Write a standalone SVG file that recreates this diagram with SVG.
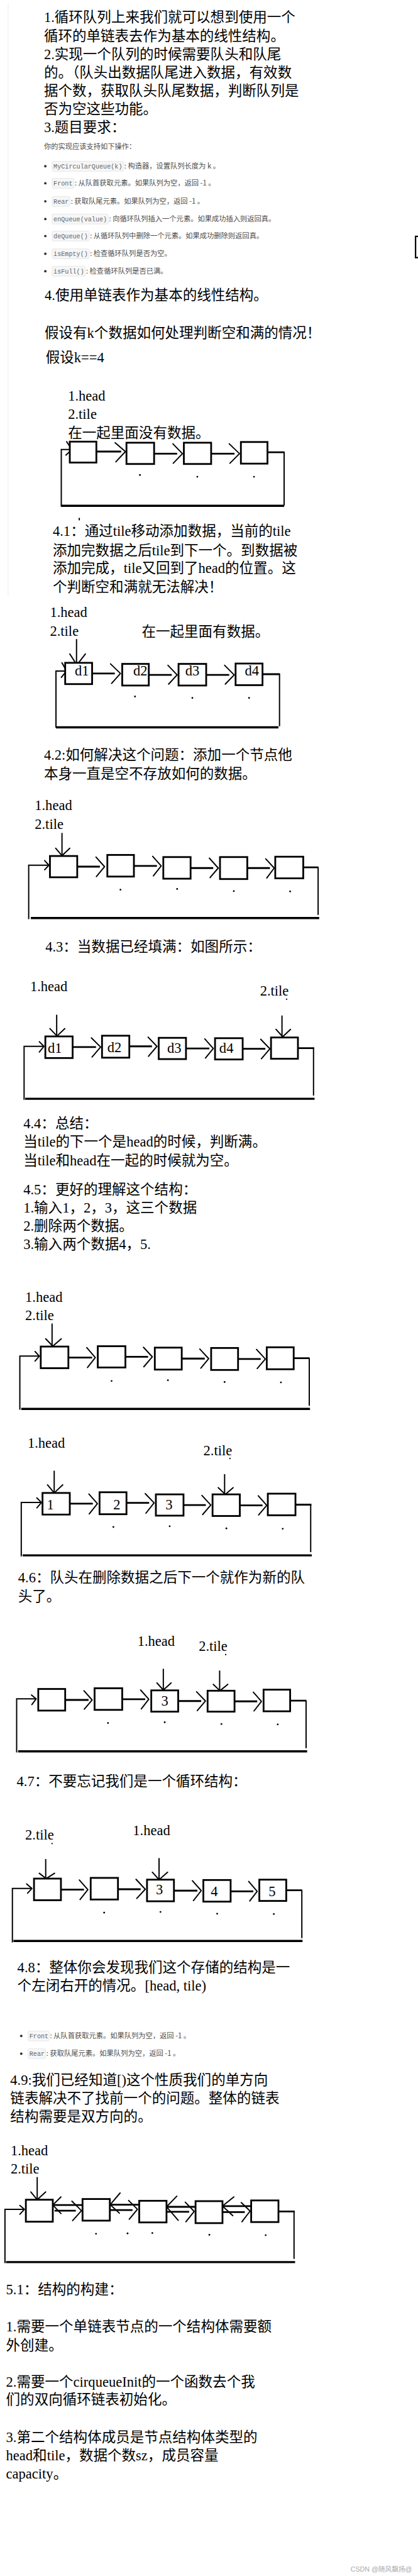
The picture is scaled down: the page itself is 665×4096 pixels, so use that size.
<svg xmlns="http://www.w3.org/2000/svg" width="665" height="4096" viewBox="0 0 665 4096">
<style>
.t{font-family:"Liberation Serif","Noto Sans CJK SC",serif;font-size:40px;fill:#000}
.n{font-family:"Liberation Serif","Noto Sans CJK SC",serif;font-size:40px;fill:#000}
.s{font-family:"Noto Sans CJK SC",sans-serif;font-size:20px;fill:#4d4d4d}
.c{font-family:"Liberation Mono",monospace;font-size:18px;fill:#666}
.cb{fill:#f6f6f6;stroke:#e4e4e4;stroke-width:1.5}
.box{fill:#fff;stroke:#000;stroke-width:5}
.ln{stroke:#000;stroke-width:5;fill:none}
.lp{stroke:#000;stroke-width:3.5;fill:none}
.bt{stroke:#000;stroke-width:6;fill:none}
.ch{stroke:#000;stroke-width:3.5;fill:none;stroke-linecap:round;stroke-linejoin:round}
.dt{fill:#000}
.wm{font-family:"Liberation Sans","Noto Sans CJK SC",sans-serif;font-size:19px;fill:#aaa}
</style>
<rect width="665" height="4096" fill="#fff"/>
<g transform="scale(0.5636)">
<line x1="23" y1="8" x2="23" y2="1682" stroke="#efefef" stroke-width="2"/>
<path d="M1180,667 H1173 V727 H1180" stroke="#000" stroke-width="4" fill="none"/>

<g id="intro-text">
<text class="t" x="124" y="62">1.循环队列上来我们就可以想到使用一个</text>
<text class="t" x="124" y="115">循环的单链表去作为基本的线性结构。</text>
<text class="t" x="124" y="166">2.实现一个队列的时候需要队头和队尾</text>
<text class="t" x="124" y="218">的。（队头出数据队尾进入数据，有效数</text>
<text class="t" x="124" y="270">据个数，获取队头队尾数据，判断队列是</text>
<text class="t" x="124" y="322">否为空这些功能。</text>
<text class="t" x="124" y="373">3.题目要求：</text>
<text class="s" x="124" y="420">你的实现应该支持如下操作：</text>
</g>

<g id="api-list">
<circle cx="128" cy="469" r="3.5" fill="#333"/><rect class="cb" x="147" y="455" width="202" height="28" rx="4"/><text class="c" x="151" y="475">MyCircularQueue(k)</text><text class="s" x="351" y="476">: 构造器，设置队列长度为 k 。</text>
<circle cx="128" cy="517" r="3.5" fill="#333"/><rect class="cb" x="147" y="503" width="62" height="28" rx="4"/><text class="c" x="151" y="523">Front</text><text class="s" x="211" y="524">: 从队首获取元素。如果队列为空，返回 -1 。</text>
<circle cx="128" cy="568" r="3.5" fill="#333"/><rect class="cb" x="147" y="554" width="51" height="28" rx="4"/><text class="c" x="151" y="574">Rear</text><text class="s" x="200" y="575">: 获取队尾元素。如果队列为空，返回 -1 。</text>
<circle cx="128" cy="618" r="3.5" fill="#333"/><rect class="cb" x="147" y="604" width="159" height="28" rx="4"/><text class="c" x="151" y="624">enQueue(value)</text><text class="s" x="308" y="625">: 向循环队列插入一个元素。如果成功插入则返回真。</text>
<circle cx="128" cy="666" r="3.5" fill="#333"/><rect class="cb" x="147" y="652" width="105" height="28" rx="4"/><text class="c" x="151" y="672">deQueue()</text><text class="s" x="254" y="673">: 从循环队列中删除一个元素。如果成功删除则返回真。</text>
<circle cx="128" cy="716" r="3.5" fill="#333"/><rect class="cb" x="147" y="702" width="105" height="28" rx="4"/><text class="c" x="151" y="722">isEmpty()</text><text class="s" x="254" y="723">: 检查循环队列是否为空。</text>
<circle cx="128" cy="765" r="3.5" fill="#333"/><rect class="cb" x="147" y="751" width="94" height="28" rx="4"/><text class="c" x="151" y="771">isFull()</text><text class="s" x="243" y="772">: 检查循环队列是否已满。</text>
</g>

<g id="sec4-text">
<text class="t" x="126" y="847">4.使用单链表作为基本的线性结构。</text>
<text class="t" x="126" y="952">假设有k个数据如何处理判断空和满的情况！</text>
<text class="t" x="129" y="1022">假设k==4</text>
<text class="t" x="192" y="1130">1.head</text>
<text class="t" x="192" y="1182">2.tile</text>
<text class="t" x="192" y="1235">在一起里面没有数据。</text>
</g>

<!-- Diagram 1 -->
<g id="d1-connectors">
<path class="ln" d="M272,1274 H342 M435,1280 H500 M596,1280 H662 M755,1276 H802"/>
<path class="lp" d="M802,1274 V1426 M173,1428 V1268 H197"/>
<path class="bt" d="M172,1427 H802"/>
<path class="ch" d="M325,1249 L354,1274 L327,1303 M488,1252 L515,1280 L489,1307 M647,1252 L676,1280 L649,1307 M188,1246 L203,1268 L186,1284"/>
<circle class="dt" cx="395" cy="1340" r="2.5"/><circle class="dt" cx="557" cy="1345" r="2.5"/><circle class="dt" cx="717" cy="1345" r="2.5"/>
<rect class="dt" x="222" y="1461" width="3.5" height="7"/>
</g>
<g id="d1-n1"><rect class="box" x="197" y="1246" width="75" height="59"/></g>
<g id="d1-n2"><rect class="box" x="357" y="1249" width="78" height="60"/></g>
<g id="d1-n3"><rect class="box" x="519" y="1249" width="77" height="60"/></g>
<g id="d1-n4"><rect class="box" x="680" y="1247" width="75" height="61"/></g>

<g id="sec41-text">
<text class="t" x="149" y="1511">4.1：通过tile移动添加数据，当前的tile</text>
<text class="t" x="149" y="1566">添加完数据之后tile到下一个。到数据被</text>
<text class="t" x="149" y="1617">添加完成，tile又回到了head的位置。这</text>
<text class="t" x="149" y="1669">个判断空和满就无法解决！</text>
<text class="t" x="141" y="1741">1.head</text>
<text class="t" x="141" y="1793">2.tile</text>
<text class="t" x="400" y="1795">在一起里面有数据。</text>
</g>

<!-- Diagram 2 -->
<g id="d2-connectors">
<path class="lp" d="M216,1803 V1876"/>
<path class="ch" d="M197,1845 L217,1876 L241,1845"/>
<path class="ln" d="M260,1900 H324 M420,1904 H485 M582,1904 H647 M741,1902 H789"/>
<path class="lp" d="M789,1900 V2049 M158,2053 V1893 H184"/>
<path class="bt" d="M158,2052 H786"/>
<path class="ch" d="M312,1873 L340,1900 L315,1928 M474,1877 L500,1904 L476,1930 M634,1877 L661,1904 L636,1930 M175,1870 L188,1893 L173,1911"/>
<circle class="dt" cx="381" cy="1965" r="2.5"/><circle class="dt" cx="543" cy="1969" r="2.5"/><circle class="dt" cx="703" cy="1969" r="2.5"/>
</g>
<g id="d2-n1"><rect class="box" x="184" y="1870" width="76" height="60"/><text class="n" x="211" y="1906">d1</text></g>
<g id="d2-n2"><rect class="box" x="345" y="1873" width="75" height="61"/><text class="n" x="376" y="1906">d2</text></g>
<g id="d2-n3"><rect class="box" x="504" y="1873" width="78" height="61"/><text class="n" x="523" y="1906">d3</text></g>
<g id="d2-n4"><rect class="box" x="665" y="1872" width="76" height="61"/><text class="n" x="691" y="1906">d4</text></g>

<g id="sec42-text">
<text class="t" x="124" y="2144">4.2:如何解决这个问题：添加一个节点他</text>
<text class="t" x="124" y="2197">本身一直是空不存放如何的数据。</text>
<text class="t" x="98" y="2286">1.head</text>
<text class="t" x="98" y="2339">2.tile</text>
</g>

<!-- Diagram 3 -->
<g id="d3-connectors">
<path class="lp" d="M175,2350 V2414"/>
<path class="ch" d="M157,2393 L175,2414 L197,2393"/>
<path class="ln" d="M218,2445 H282 M378,2443 H443 M538,2449 H602 M698,2449 H762 M856,2447 H899"/>
<path class="lp" d="M898,2447 V2581 M81,2593 V2441 H135"/>
<path class="bt" d="M87,2590 H901"/>
<path class="ch" d="M271,2418 L295,2445 L272,2473 M431,2416 L455,2443 L433,2471 M591,2421 L616,2449 L593,2476 M750,2423 L774,2449 L753,2477 M126,2428 L138,2441 L126,2454"/>
<circle class="dt" cx="340" cy="2510" r="2.5"/><circle class="dt" cx="500" cy="2508" r="2.5"/><circle class="dt" cx="660" cy="2514" r="2.5"/><circle class="dt" cx="819" cy="2515" r="2.5"/>
</g>
<g id="d3-n1"><rect class="box" x="141" y="2415" width="77" height="60"/></g>
<g id="d3-n2"><rect class="box" x="303" y="2412" width="75" height="61"/></g>
<g id="d3-n3"><rect class="box" x="461" y="2418" width="77" height="61"/></g>
<g id="d3-n4"><rect class="box" x="621" y="2418" width="77" height="62"/></g>
<g id="d3-n5"><rect class="box" x="777" y="2417" width="79" height="61"/></g>

<g id="sec43-text">
<text class="t" x="128" y="2684">4.3：当数据已经填满：如图所示：</text>
<text class="t" x="85" y="2797">1.head</text>
<text class="t" x="734" y="2808">2.tile</text>
<circle class="dt" cx="809" cy="2819" r="2"/>
</g>

<!-- Diagram 4 -->
<g id="d4-connectors">
<path class="lp" d="M160,2863 V2923 M796,2865 V2925"/>
<path class="ch" d="M141,2902 L161,2923 L183,2902 M779,2904 L798,2925 L820,2904"/>
<path class="ln" d="M205,2954 H271 M365,2952 H429 M525,2958 H591 M685,2959 H749 M841,2957 H887"/>
<path class="lp" d="M885,2957 V3091 M68,3103 V2952 H124"/>
<path class="bt" d="M71,3100 H888"/>
<path class="ch" d="M258,2928 L284,2954 L260,2982 M418,2926 L443,2952 L419,2980 M578,2931 L602,2958 L580,2985 M736,2932 L762,2959 L738,2987 M111,2939 L124,2952 L111,2968"/>
</g>
<g id="d4-n1"><rect class="box" x="128" y="2924" width="77" height="61"/><text class="n" x="135" y="2970">d1</text></g>
<g id="d4-n2"><rect class="box" x="288" y="2922" width="77" height="62"/><text class="n" x="303" y="2968">d2</text></g>
<g id="d4-n3"><rect class="box" x="448" y="2928" width="77" height="60"/><text class="n" x="472" y="2971">d3</text></g>
<g id="d4-n4"><rect class="box" x="607" y="2929" width="78" height="60"/><text class="n" x="619" y="2970">d4</text></g>
<g id="d4-n5"><rect class="box" x="765" y="2927" width="76" height="60"/></g>

<g id="sec44-text">
<text class="t" x="66" y="3183">4.4：总结：</text>
<text class="t" x="66" y="3235">当tile的下一个是head的时候，判断满。</text>
<text class="t" x="66" y="3288">当tile和head在一起的时候就为空。</text>
<text class="t" x="66" y="3370">4.5：更好的理解这个结构：</text>
<text class="t" x="66" y="3420">1.输入1，2，3，这三个数据</text>
<text class="t" x="66" y="3473">2.删除两个数据。</text>
<text class="t" x="66" y="3524">3.输入两个数据4，5.</text>
<text class="t" x="71" y="3673">1.head</text>
<text class="t" x="71" y="3725">2.tile</text>
</g>

<!-- Diagram 5 -->
<g id="d5-connectors">
<path class="lp" d="M147,3734 V3798"/>
<path class="ch" d="M129,3777 L149,3798 L173,3777"/>
<path class="ln" d="M193,3830 H260 M354,3828 H418 M513,3833 H578 M672,3834 H736 M829,3832 H874"/>
<path class="lp" d="M873,3832 V3966 M56,3977 V3826 H111"/>
<path class="bt" d="M60,3975 H875"/>
<path class="ch" d="M245,3802 L269,3830 L247,3858 M405,3801 L430,3828 L406,3856 M564,3806 L589,3833 L567,3860 M724,3807 L749,3834 L726,3861 M99,3813 L111,3826 L99,3840"/>
<circle class="dt" cx="315" cy="3896" r="2.5"/><circle class="dt" cx="474" cy="3894" r="2.5"/><circle class="dt" cx="634" cy="3899" r="2.5"/><circle class="dt" cx="793" cy="3900" r="2.5"/>
</g>
<g id="d5-n1"><rect class="box" x="115" y="3799" width="78" height="61"/></g>
<g id="d5-n2"><rect class="box" x="276" y="3798" width="78" height="60"/></g>
<g id="d5-n3"><rect class="box" x="437" y="3802" width="76" height="62"/></g>
<g id="d5-n4"><rect class="box" x="596" y="3803" width="76" height="62"/></g>
<g id="d5-n5"><rect class="box" x="753" y="3801" width="76" height="62"/></g>

<g id="d6-labels">
<text class="t" x="78" y="4085">1.head</text>
<text class="t" x="574" y="4105">2.tile</text>
<circle class="dt" cx="649" cy="4115" r="2"/>
</g>

<!-- Diagram 6 -->
<g id="d6-connectors">
<path class="lp" d="M153,4149 V4212 M634,4159 V4216"/>
<path class="ch" d="M134,4189 L153,4212 L177,4189 M616,4197 L636,4216 L658,4197"/>
<path class="ln" d="M197,4242 H262 M357,4240 H421 M518,4246 H581 M677,4247 H741 M834,4245 H879"/>
<path class="lp" d="M877,4245 V4379 M60,4391 V4239 H117"/>
<path class="bt" d="M64,4388 H880"/>
<path class="ch" d="M251,4215 L275,4242 L252,4271 M410,4214 L435,4240 L412,4269 M570,4219 L595,4246 L572,4273 M729,4220 L753,4247 L730,4274 M104,4226 L117,4239 L104,4254"/>
<circle class="dt" cx="320" cy="4308" r="2.5"/><circle class="dt" cx="479" cy="4306" r="2.5"/><circle class="dt" cx="639" cy="4312" r="2.5"/><circle class="dt" cx="798" cy="4313" r="2.5"/>
</g>
<g id="d6-n1"><rect class="box" x="120" y="4212" width="77" height="61"/><text class="n" x="132" y="4258">1</text></g>
<g id="d6-n2"><rect class="box" x="281" y="4210" width="76" height="62"/><text class="n" x="320" y="4258">2</text></g>
<g id="d6-n3"><rect class="box" x="440" y="4216" width="78" height="60"/><text class="n" x="467" y="4258">3</text></g>
<g id="d6-n4"><rect class="box" x="600" y="4216" width="77" height="61"/></g>
<g id="d6-n5"><rect class="box" x="756" y="4214" width="78" height="61"/></g>

<g id="sec46-text">
<text class="t" x="51" y="4465">4.6：队头在删除数据之后下一个就作为新的队</text>
<text class="t" x="51" y="4517">头了。</text>
<text class="t" x="388" y="4643">1.head</text>
<text class="t" x="561" y="4657">2.tile</text>
<circle class="dt" cx="637" cy="4668" r="2"/>
</g>

<!-- Diagram 7 -->
<g id="d7-connectors">
<path class="lp" d="M461,4708 V4768 M620,4713 V4770"/>
<path class="ch" d="M443,4748 L461,4768 L483,4748 M602,4752 L621,4770 L643,4752"/>
<path class="ln" d="M184,4796 H250 M345,4794 H410 M503,4799 H568 M662,4800 H726 M819,4798 H865"/>
<path class="lp" d="M864,4798 V4932 M47,4944 V4793 H102"/>
<path class="bt" d="M51,4941 H867"/>
<path class="ch" d="M237,4770 L260,4796 L238,4822 M397,4768 L420,4794 L399,4821 M555,4773 L580,4799 L557,4826 M715,4774 L738,4800 L717,4827 M89,4782 L102,4793 L90,4809"/>
<circle class="dt" cx="305" cy="4861" r="2.5"/><circle class="dt" cx="465" cy="4859" r="2.5"/><circle class="dt" cx="625" cy="4864" r="2.5"/><circle class="dt" cx="784" cy="4865" r="2.5"/>
</g>
<g id="d7-n1"><rect class="box" x="108" y="4765" width="76" height="61"/></g>
<g id="d7-n2"><rect class="box" x="267" y="4763" width="78" height="61"/></g>
<g id="d7-n3"><rect class="box" x="427" y="4769" width="76" height="60"/><text class="n" x="455" y="4812">3</text></g>
<g id="d7-n4"><rect class="box" x="586" y="4770" width="76" height="59"/></g>
<g id="d7-n5"><rect class="box" x="744" y="4767" width="75" height="61"/></g>

<g id="sec47-text">
<text class="t" x="47" y="5039">4.7：不要忘记我们是一个循环结构：</text>
<text class="t" x="71" y="5189">2.tile</text>
<circle class="dt" cx="147" cy="5201" r="2"/>
<text class="t" x="375" y="5178">1.head</text>
</g>

<!-- Diagram 8 -->
<g id="d8-connectors">
<path class="lp" d="M129,5245 V5300 M449,5242 V5303"/>
<path class="ch" d="M111,5285 L130,5300 L154,5285 M430,5282 L449,5303 L473,5282"/>
<path class="ln" d="M172,5331 H237 M333,5330 H397 M491,5334 H557 M651,5336 H715 M808,5333 H853"/>
<path class="lp" d="M852,5333 V5468 M35,5480 V5328 H90"/>
<path class="bt" d="M38,5476 H854"/>
<path class="ch" d="M224,5304 L248,5331 L226,5359 M384,5302 L410,5330 L386,5356 M543,5306 L568,5334 L546,5362 M702,5308 L726,5336 L705,5363 M75,5315 L90,5328 L78,5341"/>
<circle class="dt" cx="294" cy="5396" r="2.5"/><circle class="dt" cx="453" cy="5394" r="2.5"/><circle class="dt" cx="613" cy="5399" r="2.5"/><circle class="dt" cx="773" cy="5400" r="2.5"/>
</g>
<g id="d8-n1"><rect class="box" x="96" y="5300" width="76" height="61"/></g>
<g id="d8-n2"><rect class="box" x="256" y="5298" width="77" height="61"/></g>
<g id="d8-n3"><rect class="box" x="415" y="5303" width="76" height="61"/><text class="n" x="440" y="5345">3</text></g>
<g id="d8-n4"><rect class="box" x="574" y="5304" width="77" height="61"/><text class="n" x="595" y="5349">4</text></g>
<g id="d8-n5"><rect class="box" x="732" y="5303" width="76" height="60"/><text class="n" x="758" y="5350">5</text></g>

<g id="sec48-text">
<text class="t" x="49" y="5565">4.8：整体你会发现我们这个存储的结构是一</text>
<text class="t" x="49" y="5616">个左闭右开的情况。[head, tile)</text>
<circle cx="60" cy="5744" r="3.5" fill="#333"/><rect class="cb" x="79" y="5730" width="60" height="28" rx="4"/><text class="c" x="83" y="5750">Front</text><text class="s" x="141" y="5751">: 从队首获取元素。如果队列为空，返回 -1 。</text>
<circle cx="60" cy="5794" r="3.5" fill="#333"/><rect class="cb" x="79" y="5780" width="50" height="28" rx="4"/><text class="c" x="83" y="5800">Rear</text><text class="s" x="131" y="5801">: 获取队尾元素。如果队列为空，返回 -1 。</text>
<text class="t" x="29" y="5882">4.9:我们已经知道[)这个性质我们的单方向</text>
<text class="t" x="29" y="5934">链表解决不了找前一个的问题。整体的链表</text>
<text class="t" x="29" y="5985">结构需要是双方向的。</text>
<text class="t" x="30" y="6080">1.head</text>
<text class="t" x="30" y="6132">2.tile</text>
</g>

<!-- Diagram 9 (double links) -->
<g id="d9-connectors">
<path class="lp" d="M105,6142 V6206"/>
<path class="ch" d="M87,6184 L105,6206 L129,6184"/>
<path class="ln" d="M149,6221 H237 M154,6237 H214 M310,6220 H391 M310,6235 H374 M470,6226 H555 M470,6240 H534 M628,6224 H715 M628,6241 H691 M786,6239 H832"/>
<path class="ch" d="M172,6198 L149,6221 L172,6245 M203,6210 L230,6237 L205,6265 M339,6187 L311,6220 L337,6244 M363,6208 L388,6233 L365,6261 M499,6196 L470,6226 L503,6264 M523,6213 L548,6239 L525,6268 M660,6198 L628,6224 L657,6251 M681,6214 L706,6238 L683,6268"/>
<path class="lp" d="M830,6239 V6373 M14,6385 V6233 H69"/>
<path class="bt" d="M17,6382 H833"/>
<path class="ch" d="M56,6222 L69,6233 L56,6247"/>
<circle class="dt" cx="271" cy="6302" r="2.5"/><circle class="dt" cx="360" cy="6301" r="2.5"/><circle class="dt" cx="430" cy="6300" r="2.5"/><circle class="dt" cx="591" cy="6305" r="2.5"/><circle class="dt" cx="750" cy="6306" r="2.5"/>
</g>
<g id="d9-n1"><rect class="box" x="73" y="6206" width="76" height="62"/></g>
<g id="d9-n2"><rect class="box" x="233" y="6204" width="77" height="61"/></g>
<g id="d9-n3"><rect class="box" x="393" y="6209" width="77" height="61"/></g>
<g id="d9-n4"><rect class="box" x="552" y="6210" width="76" height="62"/></g>
<g id="d9-n5"><rect class="box" x="709" y="6208" width="77" height="61"/></g>

<g id="sec5-text">
<text class="t" x="17" y="6473">5.1：结构的构建：</text>
<text class="t" x="17" y="6578">1.需要一个单链表节点的一个结构体需要额</text>
<text class="t" x="17" y="6630">外创建。</text>
<text class="t" x="17" y="6734">2.需要一个cirqueueInit的一个函数去个我</text>
<text class="t" x="17" y="6784">们的双向循环链表初始化。</text>
<text class="t" x="17" y="6890">3.第二个结构体成员是节点结构体类型的</text>
<text class="t" x="17" y="6941">head和tile，数据个数sz，成员容量</text>
<text class="t" x="17" y="6992">capacity。</text>
<text class="wm" x="1163" y="7256" text-anchor="end">CSDN @随风飘扬@</text>
</g>
</g>
</svg>
